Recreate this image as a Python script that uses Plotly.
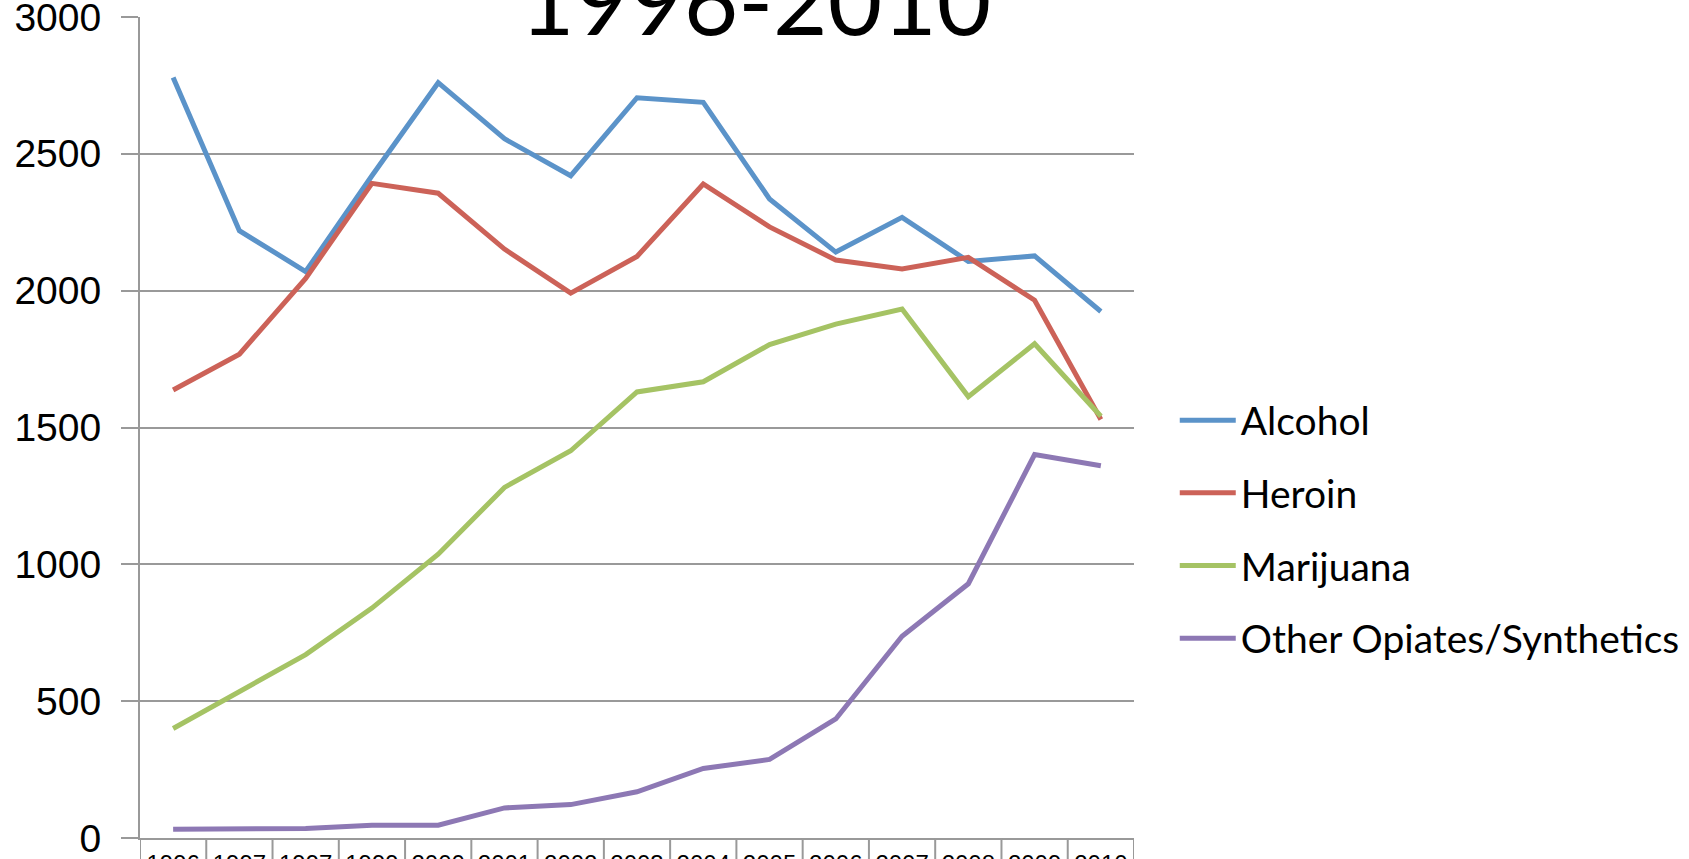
import plotly.graph_objects as go

years = ["1996", "1997", "1997", "1999", "2000", "2001", "2002", "2003",
         "2004", "2005", "2006", "2007", "2008", "2009", "2010"]
alcohol = [2779, 2219, 2070, 2420, 2760, 2555, 2420, 2705, 2688, 2335, 2141, 2268, 2107, 2127, 1924]
heroin = [1637, 1768, 2045, 2392, 2356, 2152, 1991, 2125, 2390, 2233, 2112, 2079, 2122, 1965, 1529]
marijuana = [400, 535, 670, 840, 1037, 1281, 1415, 1630, 1667, 1803, 1878, 1933, 1613, 1806, 1541]
other_opiates = [32, 35, 35, 47, 47, 110, 122, 169, 254, 287, 435, 737, 929, 1401, 1360]

series_names = ["Alcohol", "Heroin", "Marijuana", "Other Opiates/Synthetics"]
series_values = [alcohol, heroin, marijuana, other_opiates]
colors = ["#5B93C9", "#CC6258", "#A5C364", "#8D78B4"]

x_idx = list(range(len(years)))
GRID = "#999999"

fig = go.Figure()
for name, vals, col in zip(series_names, series_values, colors):
    fig.add_trace(go.Scatter(
        x=x_idx, y=vals, name=name, mode="lines",
        line=dict(color=col, width=5),
        legendgroup=name,
    ))

# category divider lines below the x axis (Excel-style)
shapes = []
for i in range(len(years) + 1):
    shapes.append(dict(type="line", xref="x", yref="paper",
                       x0=i - 0.5, x1=i - 0.5, y0=0, y1=-0.05,
                       line=dict(color=GRID, width=2)))

fig.update_layout(
    template="none",
    width=1689, height=859,
    margin=dict(l=140, r=555, t=17, b=21, autoexpand=False),
    paper_bgcolor="white", plot_bgcolor="white",
    title=dict(text="1996-2010", x=0.4474, xref="container", xanchor="center",
               y=0.997, yref="container", yanchor="middle",
               font=dict(family="Lato", size=94, color="black")),
    showlegend=True,
    legend=dict(x=1.041, y=0.376, xanchor="left", yanchor="middle",
                font=dict(family="Lato", size=39, color="black"),
                tracegroupgap=19, itemwidth=56,
                bgcolor="rgba(0,0,0,0)"),
    xaxis=dict(range=[-0.5, len(years) - 0.5], tickmode="array",
               tickvals=x_idx, ticktext=years, showgrid=False,
               showline=True, linecolor=GRID, linewidth=2,
               ticks="", automargin=False, zeroline=False,
               ticklabeloverflow="allow", ticklabelstandoff=3,
               tickfont=dict(family="Liberation Sans", size=24, color="black")),
    yaxis=dict(range=[0, 3000], tickvals=[0, 500, 1000, 1500, 2000, 2500, 3000],
               showgrid=True, gridcolor=GRID, gridwidth=2,
               showline=True, linecolor=GRID, linewidth=2,
               ticks="outside", ticklen=17, tickcolor=GRID, tickwidth=2,
               ticklabelstandoff=12, automargin=False, zeroline=False,
               ticklabeloverflow="allow",
               tickfont=dict(family="Liberation Sans", size=39, color="black")),
    shapes=shapes,
)

fig.write_html("out.html", config={"displayModeBar": False},
               post_script="document.body.style.margin='0';")
